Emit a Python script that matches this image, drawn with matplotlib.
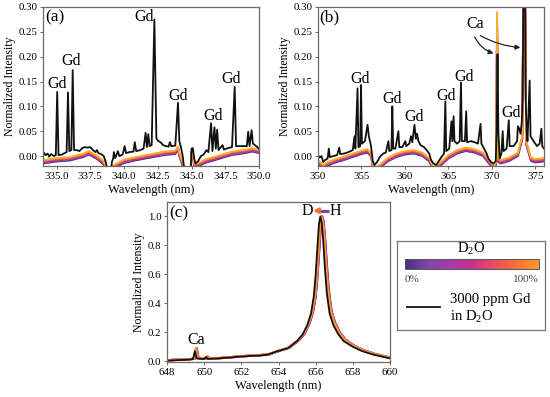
import numpy as np
import matplotlib
matplotlib.use("Agg")
import matplotlib.pyplot as plt
from matplotlib.colors import LinearSegmentedColormap
from matplotlib.cm import ScalarMappable

plt.rcParams['font.family'] = ['Liberation Serif', 'DejaVu Serif']
plt.rcParams['mathtext.fontset'] = 'custom'
plt.rcParams['mathtext.rm'] = 'Liberation Serif'

# ---------------- data ----------------
d2o_fraction = [0, 20, 40, 60, 80, 100]          # % D2O of the coloured spectra
cmap_colors = ['#4a2f85', '#7d47aa', '#a63aa6', '#c9308a', '#eb4c60', '#f7713a', '#fb9a2c']

# Panel (a): 3000 ppm Gd in D2O (black)
a_wl = [334.0, 334.1, 334.2, 334.35, 334.45, 334.6, 334.8, 334.95, 335.05, 335.15, 335.4, 335.6,
        335.75, 335.85, 335.95, 336.1, 336.2, 336.3, 336.5, 336.7, 336.9, 337.1, 337.3, 337.5,
        337.7, 337.9, 338.0, 338.1, 338.3, 338.5, 338.65, 338.75, 339.05, 339.1, 339.2, 339.25,
        339.35, 339.55, 339.65, 339.9, 340.05, 340.15, 340.4, 340.7, 340.8, 340.9, 341.2, 341.45,
        341.6, 341.7, 341.8, 341.9, 342.05, 342.25, 342.4, 342.55, 342.7, 342.9, 343.1, 343.3,
        343.4, 343.5, 343.8, 344.0, 344.1, 344.2, 344.35, 344.45, 344.95, 345.0, 345.1, 345.2,
        345.3, 345.5, 345.7, 345.9, 346.1, 346.25, 346.45, 346.55, 346.7, 346.8, 346.9, 347.0,
        347.3, 347.4, 347.7, 348.0, 348.2, 348.3, 348.6, 348.9, 349.1, 349.2, 349.3, 349.45,
        349.55, 349.8, 350.0]
a_black = [0.000, 0.006, 0.002, 0.005, -0.001, 0.004, 0.000, 0.002, 0.129, 0.002, 0.003, 0.006,
           0.008, 0.128, 0.010, 0.012, 0.173, 0.012, 0.012, 0.010, 0.016, 0.018, 0.017, 0.018,
           0.012, 0.008, 0.012, 0.006, 0.004, 0.000, -0.012, -0.025, -0.025, -0.012, -0.005, 0.008,
           -0.004, 0.010, 0.000, 0.003, 0.020, 0.006, 0.008, 0.009, 0.028, 0.010, 0.012, 0.015,
           0.047, 0.018, 0.044, 0.020, 0.022, 0.275, 0.035, 0.030, 0.028, 0.022, 0.020, 0.019,
           0.028, 0.020, 0.021, 0.107, 0.030, 0.020, 0.000, -0.025, -0.025, 0.015, 0.016, -0.005,
           -0.015, -0.010, 0.000, 0.003, 0.012, 0.008, 0.066, 0.010, 0.058, 0.015, 0.053, 0.012,
           0.022, 0.013, 0.016, 0.018, 0.139, 0.020, 0.020, 0.020, 0.020, 0.049, 0.020, 0.052,
           0.025, 0.020, 0.015]
# Panel (a): D2O/H2O mixtures (coloured), top (100 %) curve
a_col_wl = [334.0, 335.0, 336.0, 337.0, 337.4, 338.0, 338.5, 338.7, 339.1, 340.0, 341.0, 342.0,
            343.0, 343.8, 344.0, 344.1, 344.3, 344.5, 344.95, 345.0, 345.1, 345.2, 345.5, 346.0,
            347.0, 348.0, 349.0, 349.5, 350.0]
a_col = [-0.008, -0.004, -0.002, 0.005, 0.010, 0.001, -0.010, -0.025, -0.020, -0.007, -0.001, 0.004,
         0.009, 0.011, 0.020, 0.007, -0.010, -0.025, -0.025, 0.010, 0.010, -0.015, -0.014, -0.007,
         0.001, 0.009, 0.013, 0.016, 0.013]
ab_col_offset = [-0.007, -0.0055, -0.004, -0.0028, -0.0015, 0.000]

# Panel (b)
b_wl = [350.0, 350.2, 350.4, 350.6, 350.8, 351.1, 351.25, 351.35, 351.8, 352.2, 352.45, 352.55,
        353.0, 353.5, 354.0, 354.2, 354.3, 354.55, 354.65, 354.85, 354.95, 355.05, 355.4, 355.7,
        355.85, 356.1, 356.3, 356.5, 356.8, 357.0, 357.2, 357.5, 357.8, 358.1, 358.2, 358.45,
        358.55, 358.65, 358.9, 359.25, 359.35, 359.7, 360.05, 360.15, 360.5, 360.7, 360.85, 361.1,
        361.25, 361.4, 361.55, 361.8, 362.2, 362.5, 362.8, 363.0, 363.3, 363.6, 363.9, 364.2,
        364.5, 364.65, 364.75, 365.1, 365.35, 365.45, 365.6, 365.7, 366.0, 366.3, 366.45, 366.55,
        366.9, 367.05, 367.15, 367.6, 368.0, 368.4, 368.7, 368.8, 369.1, 369.4, 369.6, 369.9,
        370.2, 370.45, 370.55, 370.65, 370.75, 370.9, 371.1, 371.25, 371.35, 371.7, 371.95, 372.05,
        372.5, 372.9, 373.0, 373.15, 373.3, 373.45, 373.55, 373.65, 373.8, 373.9, 374.0, 374.1,
        374.35, 374.45, 374.8, 375.2, 375.5, 375.7, 375.8, 376.0]
b_black = [0.002, -0.003, 0.000, -0.012, -0.008, -0.005, 0.015, -0.002, 0.000, 0.002, 0.017, 0.004,
           0.005, 0.008, 0.012, 0.040, 0.015, 0.136, 0.018, 0.020, 0.143, 0.025, 0.030, 0.063,
           0.040, 0.020, -0.010, -0.018, -0.012, -0.005, 0.000, 0.005, 0.007, 0.030, 0.010, 0.012,
           0.100, 0.015, 0.015, 0.050, 0.018, 0.018, 0.030, 0.020, 0.025, 0.040, 0.028, 0.063,
           0.035, 0.045, 0.030, 0.022, 0.018, 0.012, 0.005, -0.008, -0.015, -0.018, -0.010, -0.002,
           0.005, 0.110, 0.010, 0.015, 0.070, 0.030, 0.080, 0.030, 0.025, 0.030, 0.148, 0.030,
           0.030, 0.090, 0.028, 0.030, 0.028, 0.025, 0.065, 0.025, 0.015, 0.005, -0.005, -0.012,
           -0.015, -0.010, 0.050, 0.205, 0.050, -0.005, 0.005, 0.050, 0.010, 0.015, 0.072, 0.020,
           0.020, 0.030, 0.060, 0.055, 0.045, 0.070, 0.120, 0.400, 0.400, 0.110, 0.050, 0.030,
           0.152, 0.040, 0.030, 0.020, 0.025, 0.055, 0.020, 0.015]
b_col_wl = [350.0, 350.6, 351.0, 352.0, 353.0, 354.0, 355.0, 355.7, 356.1, 356.4, 357.0, 358.0,
            359.0, 360.0, 361.0, 362.0, 362.8, 363.3, 364.0, 365.0, 366.0, 367.0, 368.0, 369.0,
            369.8, 370.3, 370.5, 370.6, 370.7, 371.0, 372.0, 373.0, 373.5, 373.65, 373.8, 373.95,
            374.5, 375.0, 376.0]
b_col = [-0.008, -0.018, -0.013, -0.006, -0.001, 0.005, 0.011, 0.014, 0.006, -0.025, -0.019, -0.004,
         0.005, 0.010, 0.012, 0.007, -0.004, -0.022, -0.014, 0.002, 0.012, 0.017, 0.014, 0.007,
         -0.011, -0.019, -0.009, 0.290, -0.004, -0.008, -0.003, 0.007, 0.040, 0.400, 0.400, 0.030,
         -0.003, -0.006, -0.004]

# Panel (c): H-alpha / D-alpha region
c_wl = [648.0, 649.0, 649.4, 649.5, 649.6, 650.0, 650.1, 650.2, 651.0, 652.0, 653.0, 653.4, 653.9,
        654.5, 655.0, 655.3, 655.55, 655.75, 655.9, 656.0, 656.1, 656.18, 656.25, 656.32, 656.4,
        656.5, 656.6, 656.75, 656.95, 657.2, 657.5, 658.0, 658.5, 659.1, 660.0]
c_black = [0.005, 0.010, 0.015, 0.070, 0.020, 0.015, 0.030, 0.016, 0.022, 0.033, 0.040, 0.045, 0.068,
           0.090, 0.140, 0.185, 0.250, 0.330, 0.450, 0.600, 0.800, 0.950, 1.000, 0.960, 0.840,
           0.640, 0.470, 0.330, 0.250, 0.190, 0.140, 0.100, 0.070, 0.046, 0.020]
c_col = [0.008, 0.012, 0.018, 0.090, 0.022, 0.017, 0.032, 0.018, 0.024, 0.035, 0.043, 0.048, 0.070,
         0.095, 0.145, 0.190, 0.255, 0.335, 0.445, 0.590, 0.780, 0.940, 1.000, 0.970, 0.860,
         0.670, 0.500, 0.350, 0.265, 0.200, 0.150, 0.105, 0.075, 0.050, 0.022]
c_col_shift = [0.10, 0.09, 0.08, 0.07, 0.06, 0.05]   # nm, line shift per D2O fraction

gd_labels_a = [(335.05, 0.146), (336.1, 0.191), (341.5, 0.279), (344.0, 0.121), (346.6, 0.081), (347.95, 0.155)]
gd_labels_b = [(354.8, 0.155), (358.5, 0.115), (361.1, 0.078), (364.7, 0.121), (366.8, 0.160), (372.2, 0.086)]

# ---------------- figure ----------------
cmap = LinearSegmentedColormap.from_list('d2o', cmap_colors)
W, H = 550, 397
fig = plt.figure(figsize=(W / 100, H / 100), dpi=100)

def px_axes(l, t, r, b):
    return fig.add_axes([l / W, 1 - b / H, (r - l) / W, (b - t) / H])

SPINE = '#6a6a6a'
def style(ax):
    for s in ax.spines.values():
        s.set_color(SPINE)
        s.set_linewidth(0.9)
    ax.tick_params(direction='out', length=2.5, width=0.7, color=SPINE, labelsize=7.8, pad=1.5)
    ax.set_xlabel('Wavelength (nm)', fontsize=9, labelpad=2.5)
    ax.set_ylabel('Normalized Intensity', fontsize=8.5, labelpad=2)

colors = [cmap(f / 100) for f in d2o_fraction]
band_top = '#f8ae2a'

# (a)
axa = px_axes(43, 7, 259, 166)
for i, (c, off) in enumerate(zip(colors, ab_col_offset)):
    axa.plot(a_col_wl, np.array(a_col) + off, color=band_top if i == len(colors) - 1 else c,
             lw=1.3, solid_joinstyle='round')
axa.plot(a_wl, a_black, color='#111111', lw=1.3)
axa.set_xlim(334, 350)
axa.set_ylim(-0.02, 0.30)
axa.set_xticks([335.0, 337.5, 340.0, 342.5, 345.0, 347.5, 350.0])
axa.set_xticklabels(['335.0', '337.5', '340.0', '342.5', '345.0', '347.5', '350.0'])
axa.set_yticks([0.0, 0.05, 0.10, 0.15, 0.20, 0.25, 0.30])
axa.set_yticklabels(['0.00', '0.05', '0.10', '0.15', '0.20', '0.25', '0.30'])
style(axa)
for x, y in gd_labels_a:
    axa.text(x, y, 'Gd', fontsize=11.5, ha='center', va='center')
axa.text(334.15, 0.279, '(a)', fontsize=12.5, ha='left', va='center')

# (b)
axb = px_axes(318, 7, 544, 166)
for i, (c, off) in enumerate(zip(colors, ab_col_offset)):
    axb.plot(b_col_wl, np.array(b_col) + off, color=band_top if i == len(colors) - 1 else c,
             lw=1.3, solid_joinstyle='round')
axb.plot(b_wl, b_black, color='#111111', lw=1.3)
axb.set_xlim(350, 376)
axb.set_ylim(-0.02, 0.30)
axb.set_xticks([350, 355, 360, 365, 370, 375])
axb.set_yticks([0.0, 0.05, 0.10, 0.15, 0.20, 0.25, 0.30])
axb.set_yticklabels(['0.00', '0.05', '0.10', '0.15', '0.20', '0.25', '0.30'])
style(axb)
for x, y in gd_labels_b:
    axb.text(x, y, 'Gd', fontsize=11.5, ha='center', va='center')
axb.text(350.2, 0.279, '(b)', fontsize=12.5, ha='left', va='center')
axb.text(368.1, 0.265, 'Ca', fontsize=11.5, ha='center', va='center')
axb.annotate('', xy=(370.5, 0.205), xytext=(367.9, 0.245),
             arrowprops=dict(arrowstyle='-|>', color='#222222', lw=0.9, mutation_scale=7,
                             connectionstyle='arc3,rad=0.25'))
axb.annotate('', xy=(373.6, 0.218), xytext=(368.4, 0.245),
             arrowprops=dict(arrowstyle='-|>', color='#222222', lw=0.9, mutation_scale=7,
                             connectionstyle='arc3,rad=0.12'))

# (c)
axc = px_axes(167, 202, 390, 362)
for c, sh in zip(colors, c_col_shift):
    axc.plot(np.array(c_wl) + sh, c_col, color=c, lw=1.6)
axc.plot(c_wl, c_black, color='#111111', lw=1.3)
axc.set_xlim(648, 660)
axc.set_ylim(-0.005, 1.1)
axc.set_xticks([648, 650, 652, 654, 656, 658, 660])
axc.set_yticks([0.0, 0.2, 0.4, 0.6, 0.8, 1.0])
style(axc)
axc.text(648.1, 1.02, '(c)', fontsize=12.5, ha='left', va='center')
axc.text(649.55, 0.145, 'Ca', fontsize=11.5, ha='center', va='center')
axc.text(655.55, 1.04, 'D', fontsize=11.5, ha='center', va='center')
axc.text(657.05, 1.04, 'H', fontsize=11.5, ha='center', va='center')
axc.plot([656.2, 656.72], [1.04, 1.04], color=cmap(0.15), lw=2.2, solid_capstyle='butt')
axc.annotate('', xy=(655.85, 1.04), xytext=(656.22, 1.04),
             arrowprops=dict(arrowstyle='-|>', color=cmap(0.8), lw=2.0, mutation_scale=7,
                             shrinkA=0, shrinkB=0))

# legend box
axl = px_axes(397, 241, 545, 330)
axl.set_xticks([]); axl.set_yticks([])
for s in axl.spines.values():
    s.set_color('#777777'); s.set_linewidth(0.9)
axl.set_xlim(397, 545); axl.set_ylim(330, 241)
axl.text(471.5, 249, 'D$_2$O', fontsize=10.5, ha='center', va='center')
axl.text(405, 279, '0%', fontsize=8, ha='left', va='center', color='#444444')
axl.text(539, 279, '100%', fontsize=8, ha='right', va='center', color='#444444')
axl.plot([407, 440], [307, 307], color='#111111', lw=1.3)
axl.text(450, 299, '3000 ppm Gd', fontsize=10.5, ha='left', va='center')
axl.text(450, 317, 'in D$_2$O', fontsize=10.5, ha='left', va='center')

cax = px_axes(405, 259, 539, 269)
cb = fig.colorbar(ScalarMappable(cmap=cmap), cax=cax, orientation='horizontal')
cb.set_ticks([])
cb.outline.set_edgecolor('#555555')
cb.outline.set_linewidth(0.7)

fig.savefig('out.png', dpi=100)
